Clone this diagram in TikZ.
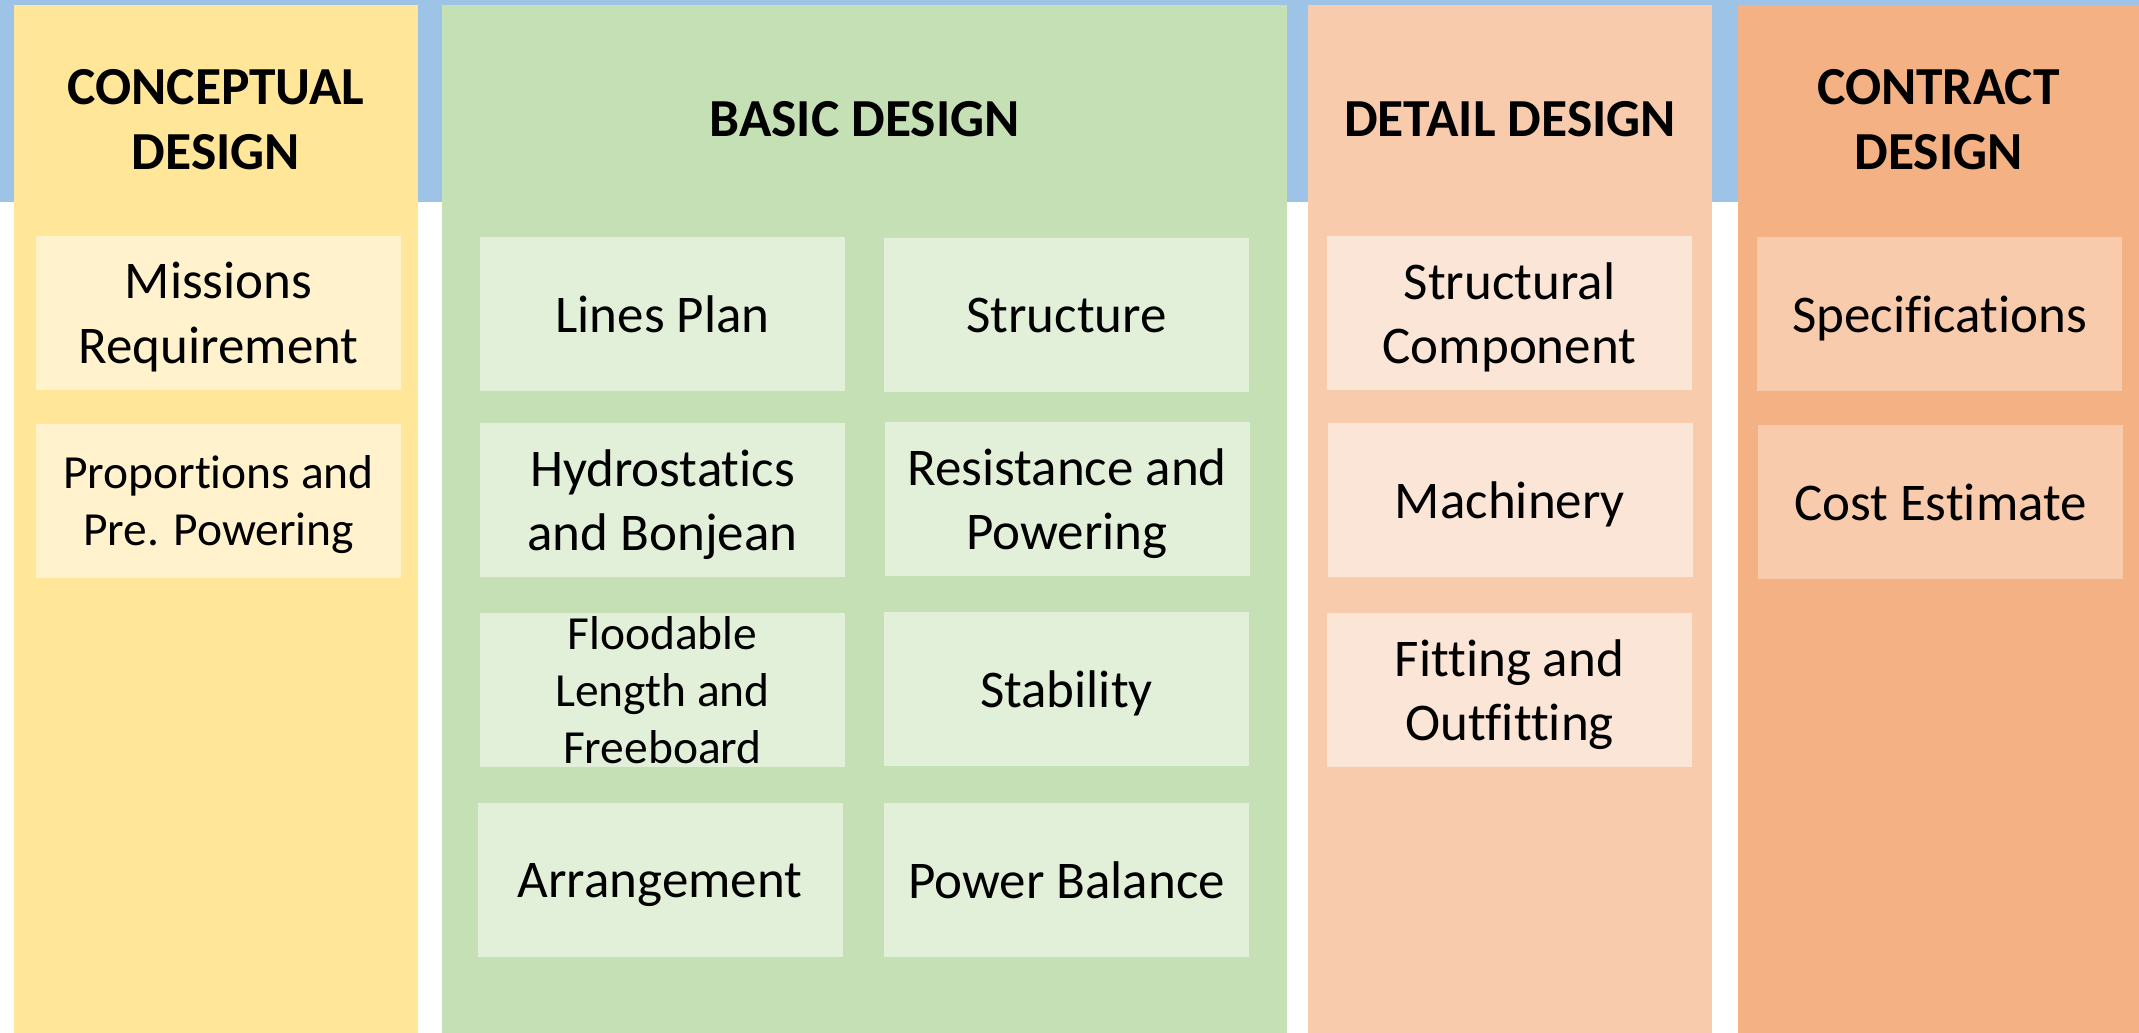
\documentclass[tikz,border=0pt]{standalone}
\usepackage{fontspec}
\setmainfont{Carlito}[Ligatures=NoCommon]
\definecolor{bandblue}{HTML}{9DC3E6}
\definecolor{yelcol}{HTML}{FFE699}
\definecolor{yelbox}{HTML}{FFF2CC}
\definecolor{grncol}{HTML}{C5E0B4}
\definecolor{grnbox}{HTML}{E2F0D9}
\definecolor{pchcol}{HTML}{F8CBAD}
\definecolor{pchbox}{HTML}{FBE5D6}
\definecolor{orgcol}{HTML}{F4B183}
\definecolor{orgbox}{HTML}{F8CBAD}
\tikzset{
  colhead/.style={inner sep=0pt, align=center, text depth=0pt, font=\fontsize{53.5}{65}\selectfont\bfseries},
  itembox/.style={inner sep=0pt, minimum width=365pt, minimum height=154pt, align=center, text depth=0pt, font=\fontsize{53}{64.5}\selectfont},
  smallitem/.style={itembox, font=\fontsize{47.5}{57}\selectfont},
  tinyitem/.style={itembox, font=\fontsize{47.5}{57}\selectfont},
}
\begin{document}
\begin{tikzpicture}[x=1pt,y=-1pt]
\useasboundingbox (0,0) rectangle (2139,1033);
% background band
\fill[bandblue] (0,0) rectangle (2139,202);
% columns
\fill[yelcol] (14,5) rectangle (418,1033);
\fill[grncol] (442,5) rectangle (1287,1033);
\fill[pchcol] (1308,5) rectangle (1712,1033);
\fill[orgcol] (1738,5) rectangle (2139,1033);
% headers
\node[colhead] (h1) at (216,119) {CONCEPTUAL\\DESIGN};
\node[colhead] (h2) at (864.5,119) {BASIC DESIGN};
\node[colhead] (h3) at (1510,119) {DETAIL DESIGN};
\node[colhead] (h4) at (1938.5,119) {CONTRACT\\DESIGN};
% conceptual
\node[itembox, fill=yelbox] (c1) at (218.5,313) {Missions\\Requirement};
\node[smallitem, fill=yelbox] (c2) at (218.5,501) {Proportions and\\Pre. Powering};
% basic
\node[itembox, fill=grnbox] (b1) at (662.5,314) {Lines Plan};
\node[itembox, fill=grnbox] (b2) at (1066.5,315) {Structure};
\node[itembox, fill=grnbox] (b3) at (662.5,500) {Hydrostatics\\and Bonjean};
\node[itembox, fill=grnbox] (b4) at (1067,499) {Resistance and\\Powering};
\node[tinyitem, fill=grnbox] (b5) at (662.5,690) {Floodable\\Length and\\Freeboard};
\node[itembox, fill=grnbox] (b6) at (1066.5,689) {Stability};
\node[itembox, fill=grnbox] (b7) at (660,880) {Arrangement};
\node[itembox, fill=grnbox] (b8) at (1066.5,880) {Power Balance};
% detail
\node[itembox, fill=pchbox] (d1) at (1509.5,313) {Structural\\Component};
\node[itembox, fill=pchbox] (d2) at (1510,500) {Machinery};
\node[itembox, fill=pchbox] (d3) at (1509.5,690) {Fitting and\\Outfitting};
% contract
\node[itembox, fill=orgbox] (k1) at (1939.5,314) {Specifications};
\node[itembox, fill=orgbox] (k2) at (1940.5,502) {Cost Estimate};
\end{tikzpicture}
\end{document}
